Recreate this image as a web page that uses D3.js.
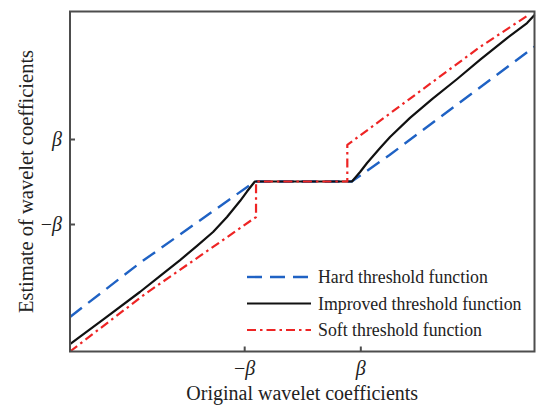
<!DOCTYPE html>
<html>
<head>
<meta charset="utf-8">
<script src="https://cdn.jsdelivr.net/npm/d3@7"></script>
<style>
  body { margin: 0; background: #fff; }
  text { font-family: "Liberation Serif", "DejaVu Serif", serif; fill: #222; }
</style>
</head>
<body>
<div id="chart"></div>
<script>
// Data (normalised units, threshold region around 0)
const hardX = [-1, -0.699, -0.204, 0.213, 0.376, 1];
const hardY = [-0.797, -0.479, 0, 0, 0.156, 0.793];

const improvedX = [-1, -0.849, -0.699, -0.613, -0.526, -0.453, -0.384, -0.324, -0.268, -0.238, -0.204,
                   0.214, 0.249, 0.279, 0.335, 0.378, 0.464, 0.559, 0.667, 0.765, 0.882, 0.968, 1];
const improvedY = [-0.956, -0.803, -0.65, -0.556, -0.462, -0.379, -0.297, -0.209, -0.115, -0.059, 0,
                   0, 0.056, 0.109, 0.197, 0.262, 0.374, 0.485, 0.603, 0.715, 0.844, 0.932, 0.979];

const softX = [-1, -0.677, -0.44, -0.199, -0.199, 0.194, 0.194, 0.765, 0.968];
const softY = [-1, -0.662, -0.438, -0.209, 0, 0, 0.215, 0.791, 0.974];

const tickVals = [-0.25, 0.25];
const tickLabels = ["−", ""];   // sign part, beta is added in italics

const seriesNames = ["Hard threshold function", "Improved threshold function", "Soft threshold function"];

// Setup layout
const svgWidth = 536;
const svgHeight = 410;
const plot = { left: 70, right: 534.5, top: 11.5, bottom: 351.5 };

const svg = d3.select("#chart")
  .append("svg")
  .attr("width", svgWidth)
  .attr("height", svgHeight);

const x = d3.scaleLinear().domain([-1, 1]).range([plot.left, plot.right]);
const y = d3.scaleLinear().domain([-1, 1]).range([plot.bottom, plot.top]);

// series styles
const series = [
  { name: seriesNames[0], xs: hardX, ys: hardY, color: "#1f62c4", dash: "15,8", width: 2.4 },
  { name: seriesNames[1], xs: improvedX, ys: improvedY, color: "#111111", dash: null, width: 2.2 },
  { name: seriesNames[2], xs: softX, ys: softY, color: "#ee2424", dash: "9,4,2.5,4", width: 2.2 }
];

const line = d3.line()
  .x(d => x(d[0]))
  .y(d => y(d[1]));

const lines = svg.append("g");
series.forEach(s => {
  lines.append("path")
    .datum(s.xs.map((v, i) => [v, s.ys[i]]))
    .attr("d", line)
    .attr("fill", "none")
    .attr("stroke", s.color)
    .attr("stroke-width", s.width)
    .attr("stroke-dasharray", s.dash)
    .attr("stroke-linejoin", "round");
});

// frame
svg.append("rect")
  .attr("x", plot.left)
  .attr("y", plot.top)
  .attr("width", plot.right - plot.left)
  .attr("height", plot.bottom - plot.top)
  .attr("fill", "none")
  .attr("stroke", "#4d4d4d")
  .attr("stroke-width", 2);

// axes with inward ticks
function betaLabels(sel) {
  sel.selectAll(".tick text").each(function(d, i) {
    const t = d3.select(this).text(null);
    t.append("tspan").text(tickLabels[i]);
    t.append("tspan").style("font-style", "italic").text("β");
  });
}

const xAxis = svg.append("g")
  .attr("transform", `translate(0, ${plot.bottom})`)
  .call(d3.axisBottom(x).tickValues(tickVals).tickSize(-5).tickPadding(9));
xAxis.select(".domain").remove();
xAxis.selectAll("line").attr("stroke", "#4d4d4d").attr("stroke-width", 2);
xAxis.selectAll("text").attr("font-size", 20).attr("font-family", "Liberation Serif").attr("fill", "#222");
betaLabels(xAxis);

const yAxis = svg.append("g")
  .attr("transform", `translate(${plot.left}, 0)`)
  .call(d3.axisLeft(y).tickValues(tickVals).tickSize(-5).tickPadding(8));
yAxis.select(".domain").remove();
yAxis.selectAll("line").attr("stroke", "#4d4d4d").attr("stroke-width", 2);
yAxis.selectAll("text").attr("font-size", 20).attr("font-family", "Liberation Serif").attr("fill", "#222");
betaLabels(yAxis);

// axis titles
svg.append("text")
  .attr("x", (plot.left + plot.right) / 2)
  .attr("y", 400)
  .attr("text-anchor", "middle")
  .attr("font-size", 20)
  .text("Original wavelet coefficients");

svg.append("text")
  .attr("transform", `translate(33, ${(plot.top + plot.bottom) / 2}) rotate(-90)`)
  .attr("text-anchor", "middle")
  .attr("font-size", 20.5)
  .text("Estimate of wavelet coefficients");

// legend
const legend = svg.append("g").attr("transform", "translate(247, 277)");
series.forEach((s, i) => {
  const row = legend.append("g").attr("transform", `translate(0, ${i * 26.5})`);
  row.append("line")
    .attr("x1", 0).attr("x2", 64)
    .attr("y1", 0).attr("y2", 0)
    .attr("stroke", s.color)
    .attr("stroke-width", s.width)
    .attr("stroke-dasharray", s.dash);
  row.append("text")
    .attr("x", 71)
    .attr("y", 6)
    .attr("font-size", 17.8)
    .text(s.name);
});
</script>
</body>
</html>
